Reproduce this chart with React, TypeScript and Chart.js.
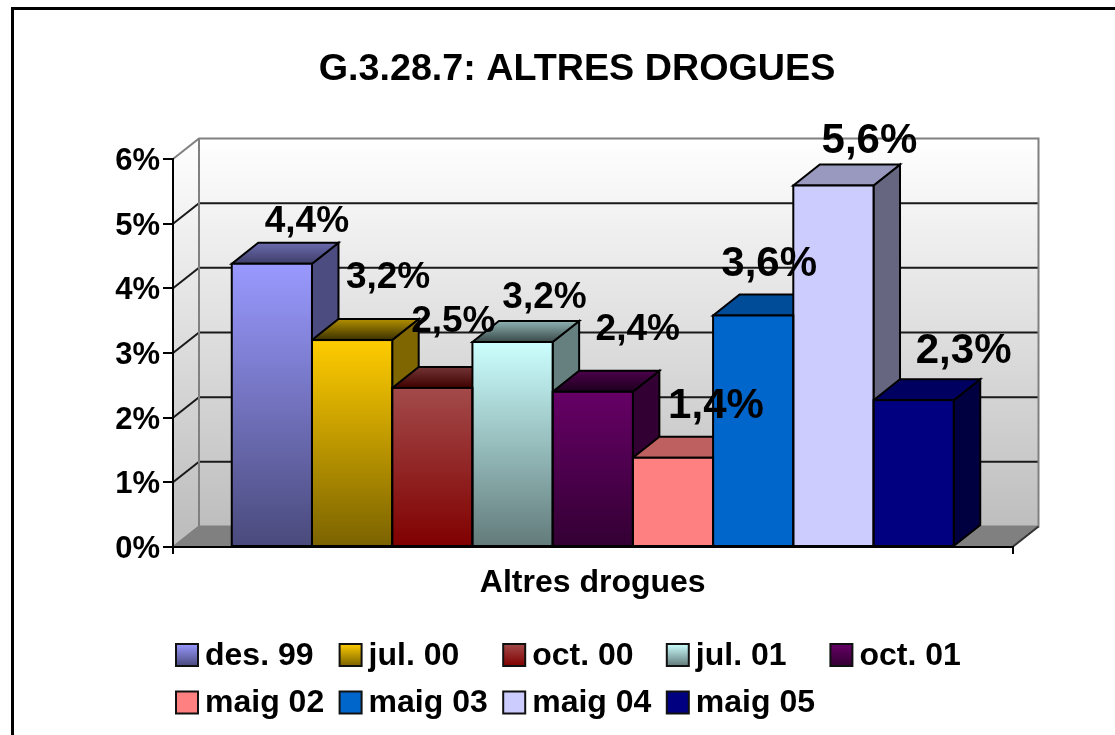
import React, { useEffect, useRef } from "react";
import { Chart, registerables } from "chart.js";

Chart.register(...registerables);

const categories = ["Altres drogues"];
const seriesNames = ["des. 99", "jul. 00", "oct. 00", "jul. 01", "oct. 01", "maig 02", "maig 03", "maig 04", "maig 05"];
const seriesValues = [4.38, 3.2, 2.46, 3.17, 2.4, 1.38, 3.58, 5.59, 2.27];
const yTicks = [0, 1, 2, 3, 4, 5, 6];

// front face gradient: top, bottom
const frontTop = ["#9999FF", "#FFCC00", "#A34A4A", "#CCFFFF", "#660066", "#FF8080", "#0066CC", "#CCCCFF", "#000080"];
const frontBottom = ["#4A4A7C", "#7A6200", "#800000", "#627A7A", "#330033", "#FF8080", "#0066CC", "#CCCCFF", "#000080"];
// cap of each bar: back edge, front edge
const capBack = ["#6B6BB0", "#B38F00", "#723434", "#8FB3B3", "#4C004C", "#BF6060", "#004C99", "#9999BF", "#000060"];
const capFront = ["#3E3E68", "#3A3000", "#400000", "#394848", "#1C001C", "#BF6060", "#004C99", "#9999BF", "#000060"];
const sideColors = ["#4C4C80", "#7F6600", "#400000", "#667F7F", "#330033", "#804040", "#003366", "#666680", "#000040"];
// data label displacement from the top centre of each bar, and its font size
const labelNudge = [[35, -42], [36, -62], [21, -66], [32, -44], [45, -62], [43, -51], [16, -51], [36, -44], [50, -49]];
const labelSize = [37, 37, 37, 37, 37, 42, 42, 42, 42];

const FONT = '"Liberation Sans", Arial, sans-serif';
const BAR_DX = 26.5;
const BAR_DY = 21;
const WALL_DX = 26;
const WALL_DY = 20.5;

const poly = (ctx: any, pts: number[][]) => {
  ctx.beginPath();
  pts.forEach((p, i) => (i ? ctx.lineTo(p[0], p[1]) : ctx.moveTo(p[0], p[1])));
  ctx.closePath();
};

const wallPlugin = {
  id: "wall",
  afterLayout(chart: any) {
    const t = chart.titleBlock;
    if (t) {
      t.left += 17.25;
      t.right += 17.25;
    }
  },
  beforeDraw(chart: any) {
    const { ctx, chartArea: a, scales } = chart;
    const y = scales.y;
    ctx.save();
    ctx.fillStyle = "#fff";
    ctx.fillRect(0, 0, chart.width, chart.height);
    ctx.strokeStyle = "#000";
    ctx.lineWidth = 3;
    ctx.strokeRect(12.5, 8.5, 1300, 1000);

    const top = a.top - WALL_DY;
    const floor = a.bottom - WALL_DY;
    const grad = ctx.createLinearGradient(0, top, 0, floor);
    grad.addColorStop(0, "#FFFFFF");
    grad.addColorStop(1, "#BEBEBE");
    const backL = a.left + WALL_DX;
    const backR = a.right + WALL_DX;

    // back wall
    ctx.fillStyle = grad;
    ctx.fillRect(backL, top, backR - backL, floor - top);
    // side wall
    poly(ctx, [[a.left, a.top], [backL, top], [backL, floor], [a.left, a.bottom]]);
    ctx.fill();
    // floor
    ctx.fillStyle = "#808080";
    poly(ctx, [[a.left, a.bottom], [backL, floor], [backR, floor], [a.right, a.bottom]]);
    ctx.fill();

    // grid lines on the walls
    ctx.lineWidth = 2;
    ctx.strokeStyle = "#1a1a1a";
    yTicks.slice(1, -1).forEach((t) => {
      const py = y.getPixelForValue(t);
      ctx.beginPath();
      ctx.moveTo(a.left, py);
      ctx.lineTo(backL, py - WALL_DY);
      ctx.lineTo(backR, py - WALL_DY);
      ctx.stroke();
    });

    // wall outlines
    ctx.strokeStyle = "#808080";
    ctx.lineWidth = 2;
    ctx.beginPath();
    ctx.moveTo(a.left, a.top);
    ctx.lineTo(backL, top);
    ctx.lineTo(backR, top);
    ctx.lineTo(backR, floor);
    ctx.lineTo(backL, floor);
    ctx.lineTo(a.left, a.bottom);
    ctx.moveTo(backL, top);
    ctx.lineTo(backL, floor);
    ctx.stroke();
    ctx.strokeStyle = "#333";
    ctx.beginPath();
    ctx.moveTo(a.right, a.bottom);
    ctx.lineTo(backR, floor);
    ctx.stroke();
    ctx.restore();
  },
};

const bar3dPlugin = {
  id: "bar3d",
  beforeDatasetsDraw(chart: any) {
    const { ctx } = chart;
    ctx.save();
    ctx.strokeStyle = "#000";
    ctx.lineWidth = 2;
    ctx.lineJoin = "miter";
    seriesValues.forEach((_, i) => {
      const el = chart.getDatasetMeta(i).data[0];
      const l = el.x - el.width / 2;
      const r = el.x + el.width / 2;
      const t = el.y;
      const b = el.base;
      poly(ctx, [[r, t], [r + BAR_DX, t - BAR_DY], [r + BAR_DX, b - BAR_DY], [r, b]]);
      ctx.fillStyle = sideColors[i];
      ctx.fill();
      ctx.stroke();
      const g = ctx.createLinearGradient(0, t - BAR_DY, 0, t);
      g.addColorStop(0, capBack[i]);
      g.addColorStop(1, capFront[i]);
      poly(ctx, [[l, t], [l + BAR_DX, t - BAR_DY], [r + BAR_DX, t - BAR_DY], [r, t]]);
      ctx.fillStyle = g;
      ctx.fill();
      ctx.stroke();
    });
    ctx.restore();
  },
  afterDatasetsDraw(chart: any) {
    const { ctx } = chart;
    ctx.save();
    ctx.strokeStyle = "#000";
    ctx.lineWidth = 2;
    seriesValues.forEach((_, i) => {
      const el = chart.getDatasetMeta(i).data[0];
      ctx.strokeRect(el.x - el.width / 2, el.y, el.width, el.base - el.y);
    });
    ctx.fillStyle = "#000";
    ctx.textAlign = "center";
    ctx.textBaseline = "middle";
    seriesValues.forEach((v, i) => {
      const el = chart.getDatasetMeta(i).data[0];
      const text = v.toFixed(1).replace(".", ",") + "%";
      ctx.font = `bold ${labelSize[i]}px ${FONT}`;
      ctx.fillText(text, el.x + labelNudge[i][0], el.y + labelNudge[i][1]);
    });
    ctx.restore();
  },
};

const legendPlugin = {
  id: "gridLegend",
  afterDraw(chart: any) {
    const { ctx } = chart;
    const startX = 176;
    const stepX = 163.6;
    const startY = 644;
    const stepY = 47.5;
    const box = 22;
    ctx.save();
    ctx.font = `bold 32px ${FONT}`;
    ctx.textBaseline = "middle";
    ctx.textAlign = "left";
    seriesNames.forEach((name, i) => {
      const x = startX + (i % 5) * stepX;
      const y = startY + Math.floor(i / 5) * stepY;
      const g = ctx.createLinearGradient(0, y, 0, y + box);
      g.addColorStop(0, frontTop[i]);
      g.addColorStop(1, frontBottom[i]);
      ctx.fillStyle = g;
      ctx.fillRect(x, y, box, box);
      ctx.strokeStyle = "#111";
      ctx.lineWidth = 2;
      ctx.strokeRect(x, y, box, box);
      ctx.fillStyle = "#000";
      ctx.fillText(name, x + box + 7, y + box / 2 + 1);
    });
    ctx.restore();
  },
};

export default function App() {
  const ref = useRef<HTMLCanvasElement | null>(null);

  useEffect(() => {
    const canvas = ref.current;
    if (!canvas) return;
    const chart = new Chart(canvas, {
      type: "bar",
      data: {
        labels: categories,
        datasets: seriesNames.map((name, i) => ({
          label: name,
          data: [seriesValues[i]],
          borderWidth: 0,
          categoryPercentage: 0.86,
          barPercentage: 1,
          backgroundColor: (c: any) => {
            const el = c.chart.scales?.y;
            if (!el || !c.chart.chartArea) return frontTop[i];
            const g = c.chart.ctx.createLinearGradient(
              0,
              el.getPixelForValue(seriesValues[i]),
              0,
              el.getPixelForValue(0)
            );
            g.addColorStop(0, frontTop[i]);
            g.addColorStop(1, frontBottom[i]);
            return g;
          },
        })),
      },
      options: {
        animation: false,
        responsive: false,
        layout: { padding: { left: 107, right: 102.5, top: 48, bottom: 118 } },
        plugins: {
          legend: { display: false },
          tooltip: { enabled: false },
          title: {
            display: true,
            text: "G.3.28.7: ALTRES DROGUES",
            color: "#000",
            font: { family: FONT, size: 37.7, weight: "bold", lineHeight: 1 },
            padding: { top: 3, bottom: 70.3 },
          },
        },
        scales: {
          x: {
            afterFit: (s: any) => {
              s.height = 70;
            },
            grid: { drawOnChartArea: false, color: "#000", lineWidth: 2, tickLength: 7 },
            border: { color: "#000", width: 2 },
            ticks: {
              color: "#000",
              font: { family: FONT, size: 32, weight: "bold" },
              maxRotation: 0,
              padding: 10,
            },
          },
          y: {
            min: 0,
            max: 6,
            afterFit: (s: any) => {
              s.width = 66;
            },
            grid: { drawOnChartArea: false, color: "#000", lineWidth: 2, tickLength: 10 },
            border: { color: "#000", width: 2 },
            ticks: {
              stepSize: 1,
              color: "#000",
              padding: 3,
              labelOffset: 2.5,
              font: { family: FONT, size: 31, weight: "bold" },
              callback: (v: any) => `${v}%`,
            },
          },
        },
      },
      plugins: [wallPlugin, bar3dPlugin, legendPlugin],
    } as any);
    return () => chart.destroy();
  }, []);

  return (
    <div style={{ position: "fixed", left: 0, top: 0, width: 1115, height: 735, overflow: "hidden", background: "#fff" }}>
      <canvas ref={ref} width={1115} height={735} style={{ display: "block" }} />
    </div>
  );
}
